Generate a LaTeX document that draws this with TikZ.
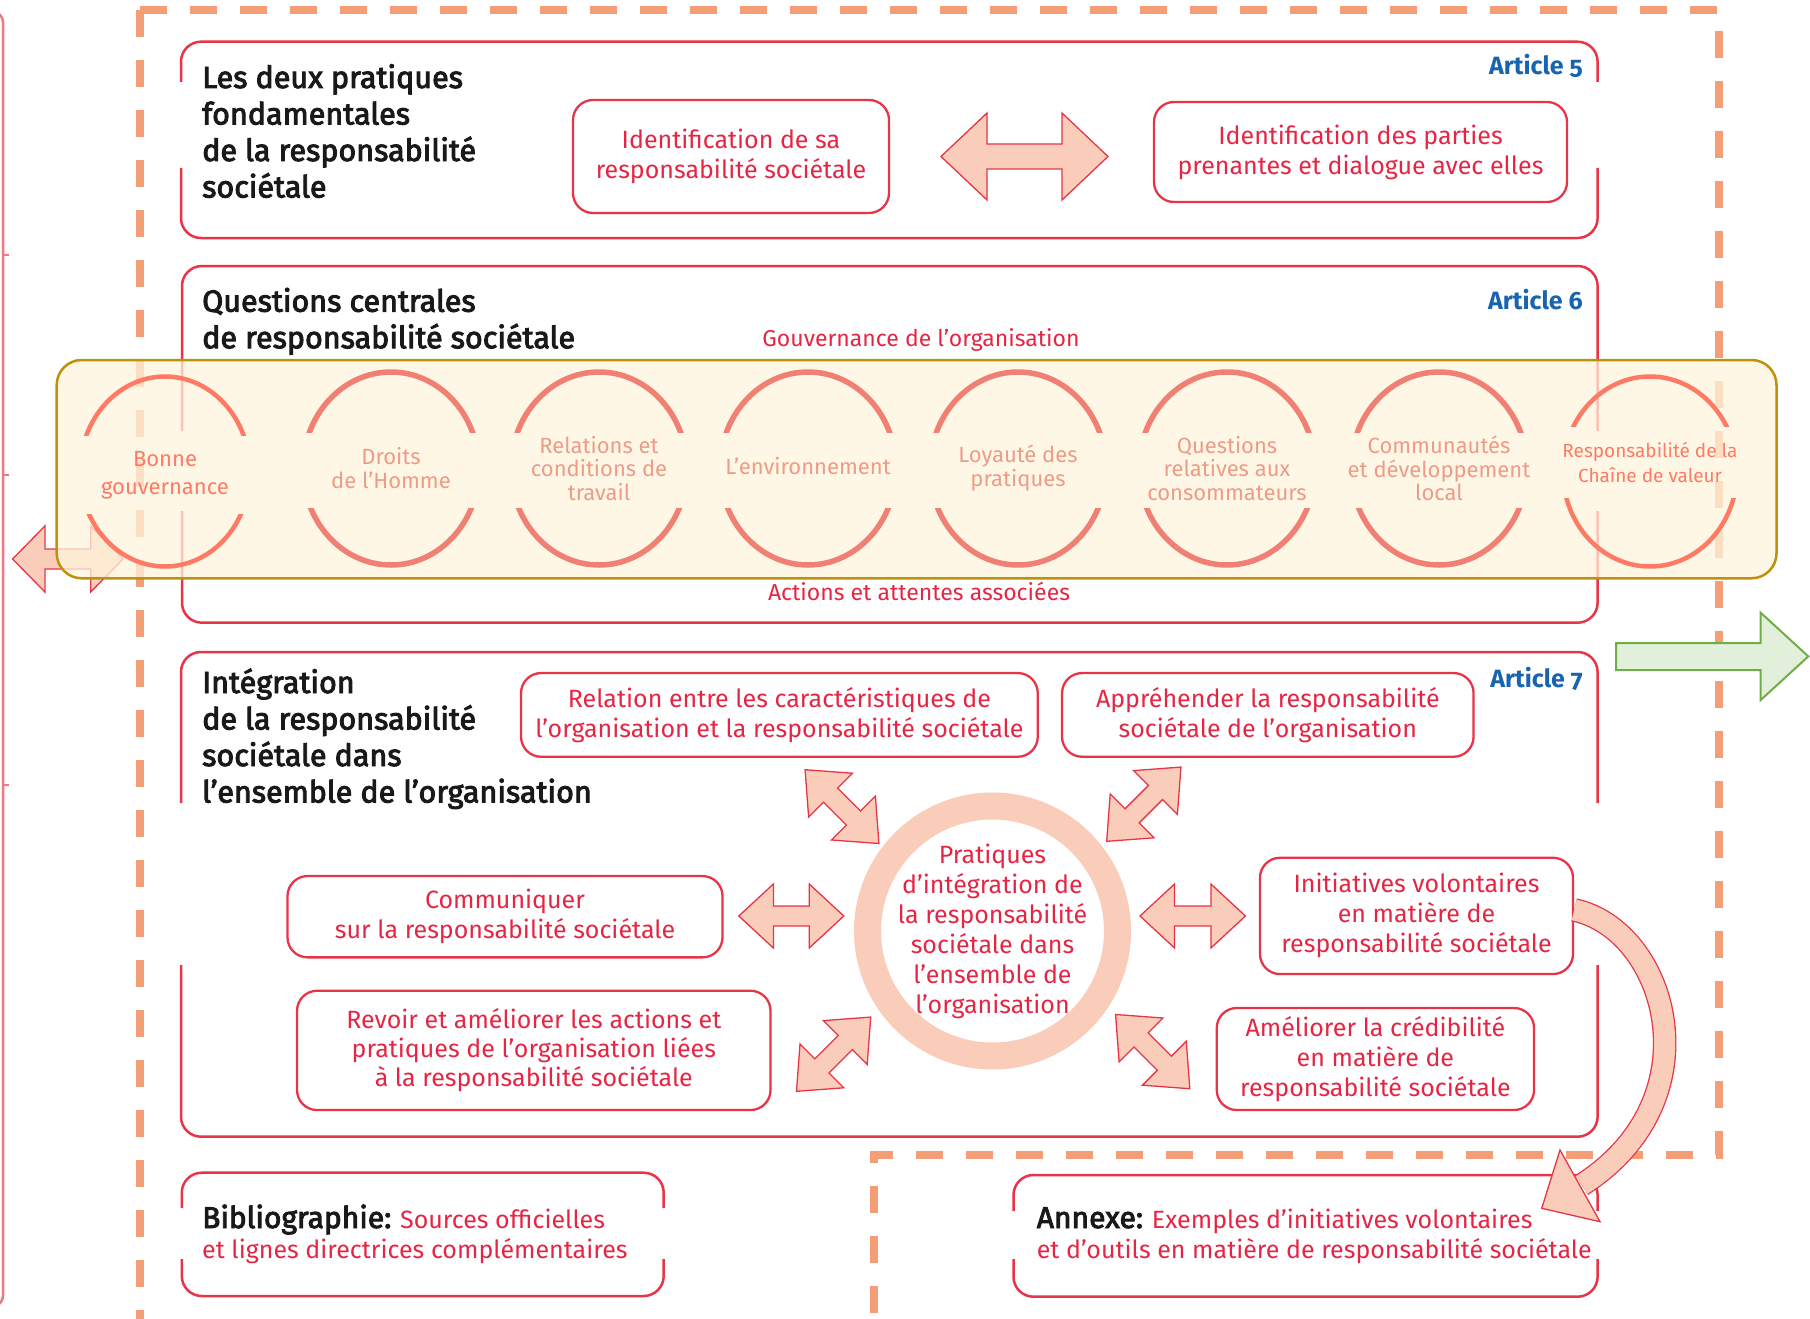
\documentclass[tikz,border=0pt]{standalone}
\usepackage{fontspec}
\setmainfont{Fira Sans}[Numbers=OldStyle]
\newfontfamily\titlefam{Fira Sans}[FakeBold=3,Numbers=OldStyle]
\usetikzlibrary{calc}
\definecolor{redline}{RGB}{232,52,72}
\definecolor{redtext}{RGB}{228,38,68}
\definecolor{peach}{RGB}{249,205,185}
\definecolor{dashorange}{RGB}{244,158,120}
\definecolor{artblue}{RGB}{25,100,175}
\definecolor{gold}{RGB}{191,144,10}
\definecolor{cream}{RGB}{255,244,220}
\definecolor{circbright}{RGB}{255,122,100}
\definecolor{circfade}{RGB}{241,128,116}
\definecolor{textfade}{RGB}{238,155,135}
\definecolor{greenfill}{RGB}{226,239,218}
\definecolor{greenline}{RGB}{112,173,71}
\definecolor{edgered}{RGB}{240,120,130}
\definecolor{titleblack}{RGB}{25,25,25}

% rounded box with a gap in both vertical sides: x1 y1 x2 y2 gaptop gapbottom
\newcommand{\gapbox}[6]{%
  \draw[bigbox] (#1,#5) -- (#1,#2) -- (#3,#2) -- (#3,#5);
  \draw[bigbox] (#1,#6) -- (#1,#4) -- (#3,#4) -- (#3,#6);}
% ellipse cut in the middle: style cx cy rx ry cuttop cutbottom
\newcommand{\cutell}[7]{%
  \begin{scope}\clip (#2-#4-10,#3-#5-10) rectangle (#2+#4+10,#6);
    \draw[#1] (#2,#3) ellipse [x radius=#4, y radius=#5];\end{scope}
  \begin{scope}\clip (#2-#4-10,#7) rectangle (#2+#4+10,#3+#5+10);
    \draw[#1] (#2,#3) ellipse [x radius=#4, y radius=#5];\end{scope}}

\tikzset{
  bigbox/.style={draw=redline, line width=2.5pt, rounded corners=20pt},
  ibox/.style={draw=redline, line width=2.3pt, rounded corners=20pt, align=center,
    text=redtext, font=\fontsize{25}{30}\selectfont, inner sep=0pt},
  ttl/.style={anchor=base west, inner sep=0pt, text=titleblack,
    font=\titlefam\fontsize{30.5}{36.5}\selectfont},
  art/.style={anchor=base east, inner sep=0pt, text=artblue,
    font=\bfseries\fontsize{25}{30}\selectfont},
  redlbl/.style={anchor=base, inner sep=0pt, text=redtext, font=\fontsize{23}{28}\selectfont},
  blockarrow/.style={fill=peach, draw=redline, line width=1.3pt, line join=miter},
  ellfade/.style={draw=circfade, line width=5.5pt},
  ellbright/.style={draw=circbright, line width=4.5pt},
  ctfade/.style={align=center, text=textfade, inner sep=0pt, font=\fontsize{22}{23.5}\selectfont},
  ctbright/.style={align=center, text=circbright, inner sep=0pt, font=\fontsize{22}{28}\selectfont},
  pics/dblarrow/.style args={#1/#2/#3/#4}{code={
    \draw[blockarrow] (-#1,0) -- (-#1+#2,-#3) -- (-#1+#2,-#4) -- (#1-#2,-#4) -- (#1-#2,-#3)
      -- (#1,0) -- (#1-#2,#3) -- (#1-#2,#4) -- (-#1+#2,#4) -- (-#1+#2,#3) -- cycle;}},
}

\begin{document}
\begin{tikzpicture}[x=1pt,y=-1pt]
\useasboundingbox (0,0) rectangle (1810,1319);

% edge of the neighbouring figure
\draw[edgered, line width=2.5pt, rounded corners=10pt] (-20,12) -- (3,12) -- (3,1306) -- (-20,1306);
\foreach \ty in {255,475,785} \draw[edgered, line width=2pt] (3,\ty) -- (9,\ty);

% outer dashed frame
\draw[dashorange, line width=8pt, dash pattern=on 27pt off 23pt, line join=miter]
  (140,10) -- (1719,10) -- (1719,1155) -- (874,1155) -- (874,1330);
\draw[dashorange, line width=8pt, dash pattern=on 27pt off 23pt] (140,10) -- (140,1330);

% section frames
\gapbox{181}{41.7}{1597.6}{238}{82}{168}
\gapbox{182}{266}{1597.6}{622.7}{431}{511}
\gapbox{181}{652}{1597.6}{1136.7}{803}{965}
\gapbox{181.8}{1172.7}{663.7}{1296}{1208}{1259}
\gapbox{1013.5}{1175}{1597.6}{1296.7}{1211}{1259}
\coordinate (annexNE) at (1597.6,1175);

% left double arrow (under band)
\pic at (67.8,559) {dblarrow=55.2/32.3/33/10};

% band of core subjects
\draw[gold, line width=2.5pt, fill=cream, fill opacity=0.75, rounded corners=25pt]
  (56.7,360) rectangle (1776.5,578.3);

% circles of the core subjects
\cutell{ellfade}{391}{468.5}{88}{96.5}{432}{508}
\cutell{ellfade}{599}{468.5}{88}{96.5}{432}{508}
\cutell{ellfade}{808}{468.5}{88}{96.5}{432}{508}
\cutell{ellfade}{1018}{468.5}{88}{96.5}{432}{508}
\cutell{ellfade}{1227}{468.5}{88}{96.5}{432}{508}
\cutell{ellfade}{1439}{468.5}{88}{96.5}{432}{508}
\cutell{ellbright}{165}{471.5}{85}{95}{435}{514}
\cutell{ellbright}{1650}{471.5}{87}{95}{426}{498}

\node[ctbright] (c1) at (165,475) {Bonne\\gouvernance};
\node[ctfade] (c2) at (391,468) {Droits\\de l’Homme};
\node[ctfade] (c3) at (599,468.5) {Relations et\\conditions de\\travail};
\node[ctfade] (c4) at (808,466) {L’environnement};
\node[ctfade] (c5) at (1018,468) {Loyauté des\\pratiques};
\node[ctfade] (c6) at (1227,468.5) {Questions\\relatives aux\\consommateurs};
\node[ctfade] (c7) at (1439,468.5) {Communautés\\et développement\\local};
\node[ctbright, font=\fontsize{19}{25}\selectfont] (c8) at (1650,463) {Responsabilité de la\\Chaîne de valeur};

% titles
\node[ttl] (t1) at (202,88) {\parbox[t]{600pt}{Les deux pratiques\\fondamentales\\de la responsabilité\\sociétale}};
\node[ttl] (t2) at (202,311.7) {\parbox[t]{600pt}{Questions centrales\\de responsabilité sociétale}};
\node[ttl] (t3) at (202,693) {\parbox[t]{600pt}{Intégration\\de la responsabilité\\sociétale dans\\l’ensemble de l’organisation}};
\node[art] (a5) at (1583,75) {Article 5};
\node[art] (a6) at (1583,309) {Article 6};
\node[art] (a7) at (1583,687) {Article 7};
\node[redlbl] (gouv) at (921,346) {Gouvernance de l’organisation};
\node[redlbl] (actions) at (919,600) {Actions et attentes associées};

% article 5 boxes
\node[ibox, minimum width=316pt, minimum height=113pt] (idsa) at (731,156.5) {Identification de sa\\responsabilité sociétale};
\node[ibox, minimum width=413pt, minimum height=100pt] (idpp) at (1360.5,152) {Identification des parties\\prenantes et dialogue avec elles};
\pic at (1024.5,156.5) {dblarrow=83.5/46/43.5/12.5};

% article 7 boxes
\node[ibox, minimum width=516.7pt, minimum height=83.7pt] (relc) at (779.4,714.9) {Relation entre les caractéristiques de\\l’organisation et la responsabilité sociétale};
\node[ibox, minimum width=411.5pt, minimum height=83.7pt] (appr) at (1267.8,714.9) {Appréhender la responsabilité\\sociétale de l’organisation};
\node[ibox, minimum width=435pt, minimum height=81.3pt] (comm) at (505,916.7) {Communiquer\\sur la responsabilité sociétale};
\node[ibox, minimum width=473.5pt, minimum height=119.3pt, font=\fontsize{25}{29}\selectfont] (revo) at (533.8,1050.4) {Revoir et améliorer les actions et\\pratiques de l’organisation liées\\à la responsabilité sociétale};
\node[ibox, minimum width=313pt, minimum height=116.3pt] (init) at (1416.5,915.9) {Initiatives volontaires\\en matière de\\responsabilité sociétale};
\node[ibox, minimum width=317.3pt, minimum height=102pt] (amel) at (1375.4,1059) {Améliorer la crédibilité\\en matière de\\responsabilité sociétale};

% central ring
\node[circle, draw=peach, line width=27pt, minimum size=250pt, inner sep=0pt] (core) at (992.5,931) {};
\node[align=center, text=redtext, font=\fontsize{25}{30}\selectfont, inner sep=0pt] (coretxt) at (core.center) {Pratiques\\d’intégration de\\la responsabilité\\sociétale dans\\l’ensemble de\\l’organisation};

% double arrows round the ring
\pic[rotate=-45] at (842,806.6) {dblarrow=52.2/36/31/10};
\pic[rotate=45] at (1143.8,804.2) {dblarrow=52.5/36/31/10};
\pic[rotate=45] at (833.6,1054.2) {dblarrow=52.5/36/31/10};
\pic[rotate=-45] at (1152.7,1051.6) {dblarrow=52.5/36/31/10};
\pic at (791.3,916) {dblarrow=52.5/34.6/32/10};
\pic at (1192.7,916) {dblarrow=52.7/34.5/32/10};

% bibliography and annex
\node[anchor=base west, inner sep=0pt] (biblio) at (202,1228) {\parbox[t]{600pt}{\leavevmode\fontsize{25}{30}\selectfont\textcolor{titleblack}{\titlefam\fontsize{30}{30}\selectfont Bibliographie:} \textcolor{redtext}{Sources officielles\\et lignes directrices complémentaires}}};
\node[anchor=base west, inner sep=0pt] (annexe) at (1036.6,1228) {\parbox[t]{700pt}{\leavevmode\fontsize{25}{30}\selectfont\textcolor{titleblack}{\titlefam\fontsize{30}{30}\selectfont Annexe:} \textcolor{redtext}{Exemples d’initiatives volontaires\\et d’outils en matière de responsabilité sociétale}}};

% curved arrow from the voluntary initiatives to the annex
\coordinate (cstart) at ($(init.east)+(0,-6)$);
\coordinate (cend) at ($(annexNE)+(-16,10)$);
\draw[blockarrow] ($(annexNE)+(-37.6,-25)$) -- ($(annexNE)+(2.4,46.7)$) -- ($(annexNE)+(-55.9,33.3)$) -- cycle;
\draw[draw=redline, line width=1.3pt, double=peach, double distance=21pt]
  (cstart) .. controls +(93,20) and +(135,-86) .. (cend);

% green arrow
\draw[fill=greenfill, draw=greenline, line width=2pt, line join=miter]
  (1616,643) -- (1760.7,643) -- (1760.7,612.7) -- (1808.3,656.4) -- (1760.7,700) -- (1760.7,670) -- (1616,670) -- cycle;
\end{tikzpicture}
\end{document}
